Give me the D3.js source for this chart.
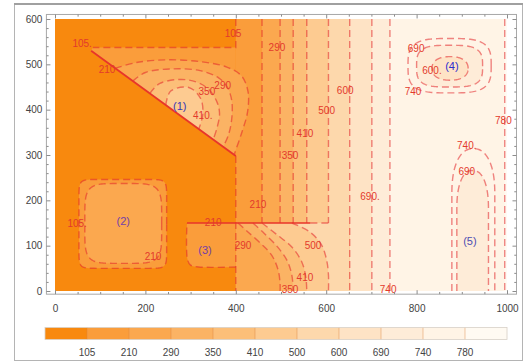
<!DOCTYPE html>
<html><head><meta charset="utf-8">
<script src="https://cdn.jsdelivr.net/npm/d3@7"></script>
<style>
html,body{margin:0;padding:0;background:#fff;}
svg{display:block;font-family:"Liberation Sans",Arial,Helvetica,sans-serif;}
</style></head><body>
<svg id="chart" width="526" height="362"></svg>
<script>
// ---- contour levels and band colours (band i lies just below levels[i]) ----
const levels = [105, 210, 290, 350, 410, 500, 600, 690, 740, 780];
const bandColors = ["#f8890e", "#fa9d3b", "#fba84f", "#fbb364", "#fcbf79", "#fdcb91",
                    "#fdd8ac", "#fee3c5", "#feecd8", "#fff4e6", "#fffaf2"];

// x position of each level's vertical contour in the right-hand field
const stripeX = [400, 458, 498, 527, 557, 605, 652, 701, 741, 995];
// lowest y each vertical contour reaches (the 210..500 ones bend below y = 150)
const stripeFloor = [0, 150, 150, 150, 150, 150, 0, 0, 0, 0];

// 105 boundary of the upper-left wedge (1), and the 105 line at x = 400
const wedge105 = [[80, 530], [84, 537], [400, 537], [400, 298]];
const line105Top = [[400, 600], [400, 537], [84, 537]];
const line105Low = [[400, 298], [400, 0]];
const diagonal = [[80, 530], [400, 298]];

// closed arcs of wedge (1), ending on the diagonal
const wedgeArcs = [
  {level: 210, pts: [[133, 491], [180, 504], [250, 510], [320, 506], [380, 494], [413, 474], [427, 440], [426, 395], [414, 352], [396, 300]]},
  {level: 290, pts: [[172, 463], [200, 482], [260, 490], [321, 486], [362, 470], [381, 450], [391, 420], [391, 380], [384, 345], [372, 318]]},
  {level: 350, pts: [[210, 436], [232, 458], [292, 466], [335, 449], [357, 420], [364, 392], [359, 362], [350, 334]]},
  {level: 410, pts: [[245, 410], [256, 441], [296, 449], [322, 425], [327, 390], [318, 357]]}
];

// lower-middle field: curves from the y = 150 break down to the bottom edge
const lowerCurves = [
  {level: 290, pts: [[405, 150], [425, 132], [455, 105], [480, 78], [494, 45], [498, 15], [498, 0]]},
  {level: 350, pts: [[438, 150], [462, 128], [490, 100], [513, 68], [524, 35], [527, 0]]},
  {level: 410, pts: [[458, 150], [490, 125], [524, 97], [546, 64], [555, 30], [557, 0]]},
  {level: 500, pts: [[524, 150], [564, 130], [589, 103], [601, 68], [605, 35], [605, 0]]}
];
const breakSolid = [[292, 150], [565, 150]];
const breakDashed = [[565, 150], [605, 150]];

// block (3): 105 boundary
const block3 = [[400, 53], [318, 53], [300, 57], [293, 70], [292, 150]];

// superellipse contours: centre, half-axes, squareness
const square2 = [
  {level: 105, cx: 150, cy: 148, a: 97, b: 98, n: 12},
  {level: 210, cx: 151, cy: 149, a: 85, b: 88, n: 5}
];
const island4 = [
  {level: 740, cx: 873, cy: 497, a: 92, b: 60, n: 3.4},
  {level: 690, cx: 873, cy: 496, a: 73, b: 46, n: 3.4},
  {level: 600, cx: 874, cy: 491, a: 40, b: 26, n: 2.3}
];
// tongue (5): open at the bottom edge
const tongue5 = [
  {level: 740, x0: 878, x1: 973, top: 314, ry: 100},
  {level: 690, x0: 889, x1: 959, top: 266, ry: 85}
];

// contour value labels [text, x, y]
const contourLabels = [
  ["105.", 60, 545], ["105", 394, 569], ["210", 115, 488],
  ["290", 371, 454], ["350", 336, 440], ["410.", 327, 388],
  ["290", 491, 538], ["350", 520, 300], ["410", 553, 348], ["500", 601, 399],
  ["600", 642, 443], ["690.", 697, 208], ["740", 737, 4], ["780", 992, 377],
  ["210", 449, 190], ["210", 350, 152], ["290", 416, 101], ["500", 571, 101],
  ["410", 553, 29], ["350", 520, 4], ["105.", 49, 150], ["210", 217, 77],
  ["690", 799, 534], ["600.", 834, 487], ["740", 792, 439],
  ["740.", 911, 322], ["690", 911, 263]
];
// region markers [text, x, y, colour]
const regionLabels = [
  ["(1)", 276, 408, "#3a37b3"], ["(2)", 151, 155, "#7240a8"], ["(3)", 332, 90, "#7240a8"],
  ["(4)", 878, 496, "#2a2ccf"], ["(5)", 918, 110, "#4d4db3"]
];

const xTicks = [0, 200, 400, 600, 800, 1000];
const yTicks = [0, 100, 200, 300, 400, 500, 600];

// ---- scales ----
const x = d3.scaleLinear().domain([0, 1000]).range([55, 507]);
const y = d3.scaleLinear().domain([0, 600]).range([291, 19]);
const frameX = [x(-19), x(1021)];
const frameY = [y(610), y(-7)];
const colorOf = lv => bandColors[levels.indexOf(lv) + 1];

const svg = d3.select("#chart");

// outer border of the graphic
svg.append("rect").attr("x", 14.5).attr("y", 4.5).attr("width", 508).attr("height", 356)
  .attr("fill", "#fff").attr("stroke", "#b4b4b4").attr("stroke-width", 1);
svg.append("line").attr("x1", 14).attr("x2", 523).attr("y1", 4).attr("y2", 4)
  .attr("stroke", "#a0a0a0").attr("stroke-width", 2);

svg.append("defs").append("clipPath").attr("id", "plotclip")
  .append("rect").attr("x", x(0)).attr("y", y(600))
  .attr("width", x(1000) - x(0)).attr("height", y(0) - y(600));

const plot = svg.append("g").attr("clip-path", "url(#plotclip)");

const smooth = d3.line().x(d => x(d[0])).y(d => y(d[1])).curve(d3.curveCatmullRom.alpha(0.5));
const straight = d3.line().x(d => x(d[0])).y(d => y(d[1]));

function superPts(s) {
  const pts = [];
  for (let i = 0; i <= 160; i++) {
    const t = i / 160 * 2 * Math.PI, c = Math.cos(t), si = Math.sin(t);
    pts.push([s.cx + s.a * Math.sign(c) * Math.pow(Math.abs(c), 2 / s.n),
              s.cy + s.b * Math.sign(si) * Math.pow(Math.abs(si), 2 / s.n)]);
  }
  return pts;
}
function tonguePts(t) {
  const cx = (t.x0 + t.x1) / 2, a = (t.x1 - t.x0) / 2, base = t.top - t.ry;
  const pts = [[t.x0, 0]];
  for (let i = 0; i <= 60; i++) {
    const th = Math.PI - i / 60 * Math.PI, c = Math.cos(th), s = Math.sin(th);
    pts.push([cx + a * Math.sign(c) * Math.pow(Math.abs(c), 2 / 2.3),
              base + t.ry * Math.pow(Math.abs(s), 2 / 2.3)]);
  }
  pts.push([t.x1, 0]);
  return pts;
}

// ---- filled bands ----
plot.append("rect").attr("x", x(0)).attr("y", y(600))
  .attr("width", x(1000) - x(0)).attr("height", y(0) - y(600)).attr("fill", bandColors[0]);

stripeX.forEach((sx, i) => {
  plot.append("rect").attr("x", x(sx)).attr("y", y(600))
    .attr("width", x(1000) - x(sx)).attr("height", y(0) - y(600))
    .attr("fill", bandColors[i + 1]);
});

// lower-middle field
plot.append("rect").attr("x", x(400)).attr("y", y(150))
  .attr("width", x(652) - x(400)).attr("height", y(0) - y(150)).attr("fill", colorOf(210));
lowerCurves.forEach(c => {
  plot.append("path")
    .attr("d", smooth(c.pts) + "L" + x(652) + "," + y(0) + "L" + x(652) + "," + y(150) + "Z")
    .attr("fill", colorOf(c.level));
});

// block (3)
plot.append("path").attr("d", smooth(block3) + "L" + x(400) + "," + y(150) + "Z")
  .attr("fill", colorOf(105));

// wedge (1)
plot.append("path").attr("d", straight(wedge105) + "Z").attr("fill", colorOf(105));
wedgeArcs.forEach(a => {
  plot.append("path").attr("d", smooth(a.pts) + "Z").attr("fill", colorOf(a.level));
});

// square (2), island (4), tongue (5)
square2.forEach(s => plot.append("path").attr("d", straight(superPts(s)) + "Z").attr("fill", colorOf(s.level)));
island4.forEach(s => plot.append("path").attr("d", straight(superPts(s)) + "Z").attr("fill", colorOf(s.level)));
tongue5.forEach(t => plot.append("path").attr("d", straight(tonguePts(t)) + "Z").attr("fill", colorOf(t.level)));

// ---- contour lines ----
const dashed = g => g.attr("fill", "none").attr("stroke", "#e2262a").attr("stroke-opacity", 0.55)
  .attr("stroke-width", 1.4).attr("stroke-dasharray", "7,4");
const lines = plot.append("g");

stripeX.forEach((sx, i) => {
  if (i === 0) return;
  lines.append("path").attr("d", straight([[sx, 600], [sx, stripeFloor[i]]])).call(dashed);
});
lines.append("path").attr("d", straight(line105Top)).call(dashed);
lines.append("path").attr("d", straight(line105Low)).call(dashed);
lowerCurves.forEach(c => lines.append("path").attr("d", smooth(c.pts)).call(dashed));
lines.append("path").attr("d", smooth(block3)).call(dashed);
wedgeArcs.forEach(a => lines.append("path").attr("d", smooth(a.pts)).call(dashed));
square2.forEach(s => lines.append("path").attr("d", straight(superPts(s))).call(dashed));
island4.forEach(s => lines.append("path").attr("d", straight(superPts(s))).call(dashed));
tongue5.forEach(t => lines.append("path").attr("d", straight(tonguePts(t))).call(dashed));

lines.append("path").attr("d", straight(breakDashed)).call(dashed);
lines.append("path").attr("d", straight(breakSolid)).attr("fill", "none")
  .attr("stroke", "#e8352a").attr("stroke-width", 1.6);
lines.append("path").attr("d", straight(diagonal)).attr("fill", "none")
  .attr("stroke", "#e8352a").attr("stroke-width", 1.8);

// ---- labels (drawn unclipped so edge labels stay whole) ----
svg.append("g").selectAll("text").data(contourLabels).join("text")
  .attr("x", d => x(d[1])).attr("y", d => y(d[2])).attr("dy", "0.35em")
  .attr("text-anchor", "middle").attr("font-size", 10).attr("fill", "#e33a2c")
  .text(d => d[0]);
svg.append("g").selectAll("text").data(regionLabels).join("text")
  .attr("x", d => x(d[1])).attr("y", d => y(d[2])).attr("dy", "0.35em")
  .attr("text-anchor", "middle").attr("font-size", 11).attr("fill", d => d[3])
  .text(d => d[0]);

// ---- frame and ticks ----
const tickColor = "#8c8c8c";
svg.append("rect").attr("x", frameX[0]).attr("y", frameY[0])
  .attr("width", frameX[1] - frameX[0]).attr("height", frameY[1] - frameY[0])
  .attr("fill", "none").attr("stroke", "#a8a8a8").attr("stroke-width", 1);

const xMinor = d3.range(0, 1001, 50).filter(v => !xTicks.includes(v));
const yMinor = d3.range(0, 601, 20).filter(v => !yTicks.includes(v));

function addAxis(axisFn, scale, major, minor, tx, ty, labels) {
  const gMaj = svg.append("g").attr("transform", `translate(${tx},${ty})`)
    .call(axisFn(scale).tickValues(major).tickSize(-4).tickPadding(labels ? 11 : 0)
      .tickFormat(labels ? d3.format("d") : () => ""));
  gMaj.select(".domain").remove();
  gMaj.selectAll("line").attr("stroke", tickColor);
  gMaj.selectAll("text").attr("fill", "#444").attr("font-size", 10)
    .attr("font-family", "Liberation Sans, Arial, sans-serif");
  const gMin = svg.append("g").attr("transform", `translate(${tx},${ty})`)
    .call(axisFn(scale).tickValues(minor).tickSize(-2.2).tickFormat(() => ""));
  gMin.select(".domain").remove();
  gMin.selectAll("line").attr("stroke", tickColor);
  return gMaj;
}
addAxis(d3.axisBottom, x, xTicks, xMinor, 0, frameY[1], true);
addAxis(d3.axisTop, x, xTicks, xMinor, 0, frameY[0], false);
const leftAx = addAxis(d3.axisLeft, y, yTicks, yMinor, frameX[0], 0, true);
leftAx.selectAll("text").attr("dx", 7);
addAxis(d3.axisRight, y, yTicks, yMinor, frameX[1], 0, false);

// ---- colour bar ----
const cb = d3.scaleLinear().domain([0, bandColors.length]).range([45, 507]);
const cbTop = 327.5, cbH = 12;
const bar = svg.append("g");
bar.selectAll("rect").data(bandColors).join("rect")
  .attr("x", (d, i) => cb(i)).attr("y", cbTop)
  .attr("width", cb(1) - cb(0) + 0.3).attr("height", cbH).attr("fill", d => d);
bar.selectAll("line").data(levels).join("line")
  .attr("x1", (d, i) => cb(i + 1)).attr("x2", (d, i) => cb(i + 1))
  .attr("y1", cbTop).attr("y2", cbTop + cbH)
  .attr("stroke", "#d9823c").attr("stroke-opacity", 0.55).attr("stroke-width", 0.8);
bar.append("rect").attr("x", cb(0)).attr("y", cbTop).attr("width", cb(bandColors.length) - cb(0))
  .attr("height", cbH).attr("fill", "none").attr("stroke", "#d8d0c8").attr("stroke-width", 0.8);
bar.selectAll("text").data(levels).join("text")
  .attr("x", (d, i) => cb(i + 1)).attr("y", 352).attr("dy", "0.35em")
  .attr("text-anchor", "middle").attr("font-size", 10).attr("fill", "#444")
  .text(d => d);
</script>
</body></html>
